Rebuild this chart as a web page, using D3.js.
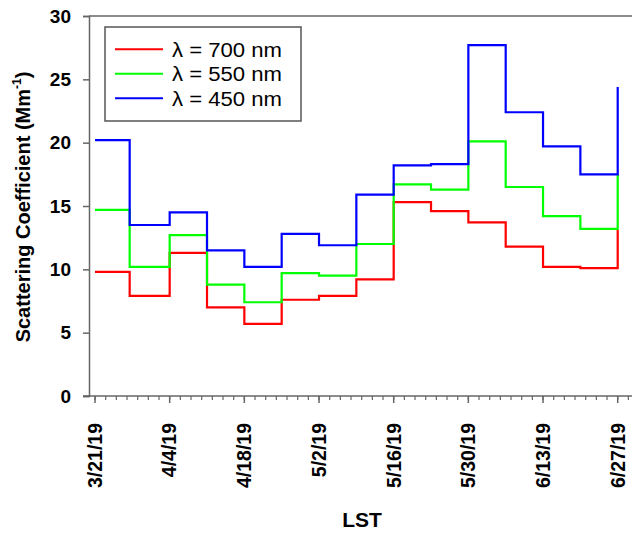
<!DOCTYPE html>
<html>
<head>
<meta charset="utf-8">
<script src="https://cdn.jsdelivr.net/npm/d3@7"></script>
<style>
  body { margin: 0; background: #fff; }
  text { font-family: Arial, "Liberation Sans", sans-serif; }
</style>
</head>
<body>
<div id="app"></div>
<script>
// weekly steps, last entry is where the step line ends
const dates = ["2019-03-21T00", "2019-03-27T12", "2019-04-04T00", "2019-04-11T00", "2019-04-18T00",
  "2019-04-25T00", "2019-05-02T00", "2019-05-09T00", "2019-05-16T00", "2019-05-23T00",
  "2019-05-30T00", "2019-06-06T00", "2019-06-13T00", "2019-06-20T00", "2019-06-27T00"]
const red700 = [9.8, 7.9, 11.3, 7.0, 5.7, 7.6, 7.9, 9.2, 15.3, 14.6, 13.7, 11.8, 10.2, 10.1, 13.1]
const green550 = [14.7, 10.2, 12.7, 8.8, 7.4, 9.7, 9.5, 12.0, 16.7, 16.3, 20.1, 16.5, 14.2, 13.2, 17.5]
const blue450 = [20.2, 13.5, 14.5, 11.5, 10.2, 12.8, 11.9, 15.9, 18.2, 18.3, 27.7, 22.4, 19.7, 17.5, 24.4]
const yTicks = [0, 5, 10, 15, 20, 25, 30]
const legendLabels = ["λ = 700 nm", "λ = 550 nm", "λ = 450 nm"]

const colors = [
  "#ff0000", //red
  "#00ff00", //green
  "#0000ff"  //blue
]
const series = [red700, green550, blue450]

const width = 632
const height = 533
const plotLeft = 89, plotRight = 632, plotTop = 16, plotBottom = 396
const axisColor = "#666"

const parse = d3.timeParse("%Y-%m-%dT%H")
const x = d3.scaleTime()
  .domain([new Date(2019, 2, 21), new Date(2019, 5, 27)])
  .range([95, 617.7])
const y = d3.scaleLinear().domain([0, 30]).range([plotBottom, plotTop])

const svg = d3.select('#app')
  .append('svg')
  .attr('width', width)
  .attr('height', height)

// top frame line
svg.append('line')
  .attr('x1', plotLeft).attr('x2', plotRight)
  .attr('y1', plotTop).attr('y2', plotTop)
  .attr('stroke', axisColor)
  .attr('stroke-width', 1.5)

// y axis
const yAxis = svg.append('g')
  .attr('transform', `translate(${plotLeft},0)`)
  .call(d3.axisLeft(y).tickValues(yTicks).tickSize(6).tickPadding(12))
yAxis.select('.domain').attr('stroke', axisColor).attr('stroke-width', 1.5)
yAxis.selectAll('line').attr('stroke', axisColor).attr('stroke-width', 1.5)
yAxis.selectAll('text')
  .attr('font-size', 19)
  .attr('font-weight', 'bold')
  .attr('fill', '#000')
  .attr('font-family', 'Arial, "Liberation Sans", sans-serif')

// x axis: minor ticks every 2 days, labels every 14 days
const minorTicks = d3.timeDay.range(new Date(2019, 2, 21), new Date(2019, 5, 30), 2)
const majorTicks = d3.timeDay.range(new Date(2019, 2, 21), new Date(2019, 5, 28), 14)

svg.append('line')
  .attr('x1', plotLeft - 6).attr('x2', plotRight)
  .attr('y1', plotBottom).attr('y2', plotBottom)
  .attr('stroke', axisColor)
  .attr('stroke-width', 1.5)

svg.append('g')
  .selectAll('line')
  .data(minorTicks)
  .enter()
  .append('line')
  .attr('x1', d => x(d)).attr('x2', d => x(d))
  .attr('y1', plotBottom).attr('y2', plotBottom + 4)
  .attr('stroke', axisColor)
  .attr('stroke-width', 1.2)

svg.append('g')
  .selectAll('line')
  .data(majorTicks)
  .enter()
  .append('line')
  .attr('x1', d => x(d)).attr('x2', d => x(d))
  .attr('y1', plotBottom).attr('y2', plotBottom + 7)
  .attr('stroke', axisColor)
  .attr('stroke-width', 1.5)

const fmt = d3.timeFormat("%-m/%-d/%y")
svg.append('g')
  .selectAll('text')
  .data(majorTicks)
  .enter()
  .append('text')
  .attr('transform', d => `translate(${x(d)},423) rotate(-90)`)
  .attr('dy', '0.35em')
  .attr('text-anchor', 'end')
  .attr('font-size', 19.5)
  .attr('font-weight', 'bold')
  .text(d => fmt(d))

// axis titles
svg.append('text')
  .attr('x', 362)
  .attr('y', 527)
  .attr('text-anchor', 'middle')
  .attr('font-size', 21)
  .attr('font-weight', 'bold')
  .text('LST')

const yLabel = svg.append('text')
  .attr('transform', 'translate(30,207) rotate(-90)')
  .attr('text-anchor', 'middle')
  .attr('font-size', 20)
  .attr('font-weight', 'bold')
yLabel.append('tspan').text('Scattering Coefficient (Mm')
yLabel.append('tspan').attr('font-size', 12).attr('dy', -9).text('-1')
yLabel.append('tspan').attr('dy', 9).text(')')

// step lines
const line = d3.line()
  .x(d => x(d[0]))
  .y(d => y(d[1]))
  .curve(d3.curveStepAfter)

series.forEach((s, i) => {
  svg.append('path')
    .datum(dates.map((d, j) => [parse(d), s[j]]))
    .attr('fill', 'none')
    .attr('stroke', colors[i])
    .attr('stroke-width', 2.2)
    .attr('d', line)
})

// legend
const legend = svg.append('g')
legend.append('rect')
  .attr('x', 105).attr('y', 27)
  .attr('width', 196).attr('height', 94)
  .attr('fill', '#fff')
  .attr('stroke', '#555')
  .attr('stroke-width', 1.5)

legend.selectAll('line')
  .data(legendLabels)
  .enter()
  .append('line')
  .attr('x1', 115).attr('x2', 163)
  .attr('y1', (d, i) => 49.3 + i * 24.5)
  .attr('y2', (d, i) => 49.3 + i * 24.5)
  .attr('stroke', (d, i) => colors[i])
  .attr('stroke-width', 2)

legend.selectAll('text')
  .data(legendLabels)
  .enter()
  .append('text')
  .attr('x', 172)
  .attr('y', (d, i) => 56.5 + i * 24.5)
  .attr('font-size', 20)
  .attr('textLength', 110)
  .attr('lengthAdjust', 'spacingAndGlyphs')
  .text(d => d)
</script>
</body>
</html>
